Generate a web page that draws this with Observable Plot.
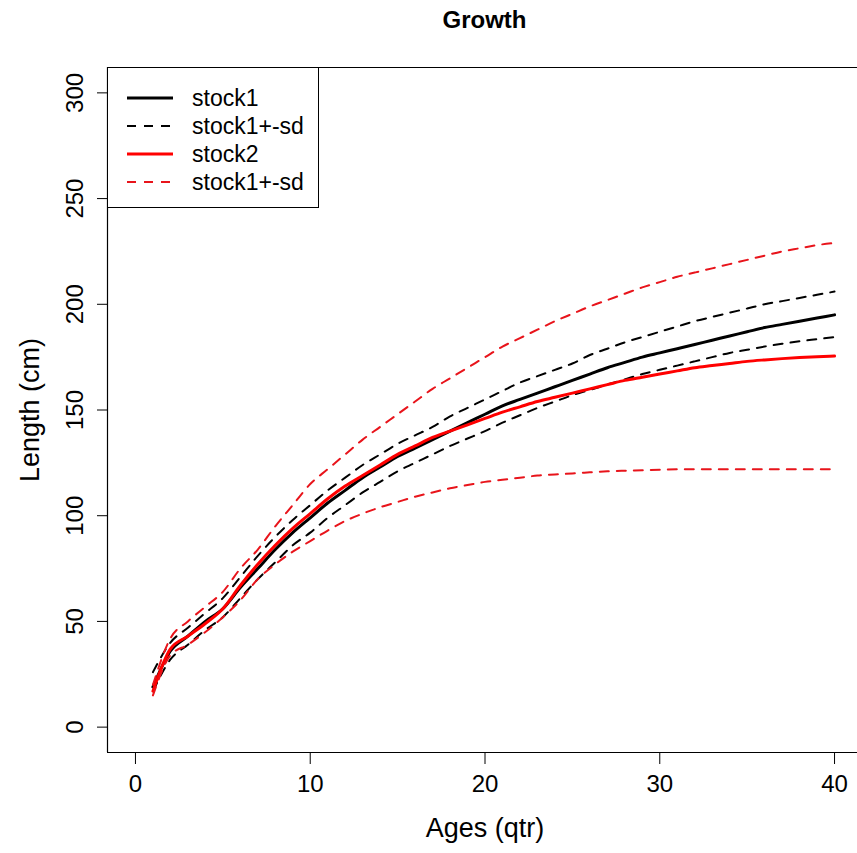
<!DOCTYPE html>
<html>
<head>
<meta charset="utf-8">
<script src="https://cdn.jsdelivr.net/npm/d3@7"></script>
<script src="https://cdn.jsdelivr.net/npm/@observablehq/plot@0.6"></script>
<style>
  html, body { margin: 0; padding: 0; background: #fff; }
  #wrap { position: relative; width: 857px; height: 853px; overflow: hidden; font-family: "Liberation Sans", Arial, sans-serif; }
  #title { position: absolute; top: 6px; left: 107px; width: 755px; text-align: center; font-weight: bold; font-size: 24px; color: #000; }
  #legend { position: absolute; left: 107px; top: 67px; width: 212px; height: 141px; border: 1px solid #000; background: #fff; box-sizing: border-box; padding-top: 16px; }
  .row { height: 28px; display: flex; align-items: center; font-size: 23px; color: #000; }
  .row svg { margin-left: 19px; margin-right: 19px; }
</style>
</head>
<body>
<div id="wrap">
  <div id="chart"></div>
  <div id="title">Growth</div>
  <div id="legend"></div>
</div>
<script>
const ages = [1,2,3,4,5,6,7,8,9,10,11,12,13,14,15,16,17,18,19,20,21,22,23,24,25,26,27,28,29,30,31,32,33,34,35,36,37,38,39,40];

const stock1 = [19,36,43,50,56,66,75,84,92,99,106,112,118,123,128,132,136,140,144,148,152,155,158,161,164,167,170,172.5,175,177,179,181,183,185,187,189,190.5,192,193.5,195];
const stock1Upper = [26,40,47,54,61,71,81,90,98,105,112,118,124,129,134,138,142,147,151,155,159,163,166,169,172,176,179,182,184.5,187,189.5,192,194,196,198,200,201.5,203,204.5,206];
const stock1Lower = [17,32,39,46,52,61,70,78,86,92,99,105,111,116,121,125,129,133,136.5,140,144,147.5,151,154,157,159.5,162,164.5,167,169,171,173,175,177,178.5,180,181.3,182.5,183.5,184.5];

const stock2 = [17,37,43,49,56,67,77,86,94,101,108,114,119,124,129,133,137,140,143,146,149,151.5,154,156,158,160,162,164,165.5,167,168.5,170,171,172,173,173.7,174.3,174.8,175.2,175.5];
const stock2Upper = [20,42,50,57,64,75,84,95,105,115,122,129,136,142,148,154,160,165,170,175,180,184,188,192,195.5,199,202,205,208,210.5,213,215,217,219,221,223,225,226.5,228,229];
const stock2Lower = [15,34,39,45,52,60,70,77,83,88,93,97.5,101,104,106.5,109,111,113,114.5,116,117,118,119,119.5,120,120.5,121,121.3,121.5,121.7,122,122,122,122,122,122,122,122,122,122];

const seriesNames = ["stock1", "stock1+", "stock1-", "stock2", "stock2+", "stock2-"];
const seriesValues = [stock1, stock1Upper, stock1Lower, stock2, stock2Upper, stock2Lower];
const seriesColors = ["#000000", "#000000", "#000000", "#ff0000", "#e8141b", "#e8141b"];
const seriesDashed = [false, true, true, false, true, true];

const legendLabels = ["stock1", "stock1+-sd", "stock2", "stock1+-sd"];
const legendColors = ["#000000", "#000000", "#ff0000", "#e8141b"];
const legendDashed = [false, true, false, true];

const xTicks = [0, 10, 20, 30, 40];
const yTicks = [0, 50, 100, 150, 200, 250, 300];
const xDomain = [-1.6, 41.6];
const yDomain = [-12, 312];

const marks = [];
seriesNames.forEach((name, i) => {
  const data = ages.map((a, j) => ({age: a, len: seriesValues[i][j]}));
  marks.push(Plot.line(data, {
    x: "age", y: "len",
    stroke: seriesColors[i],
    strokeWidth: seriesDashed[i] ? 2 : 3,
    strokeDasharray: seriesDashed[i] ? "9,8" : null,
    curve: "monotone-x"
  }));
});

const chart = Plot.plot({
  width: 857,
  height: 853,
  marginLeft: 107,
  marginRight: -5,
  marginTop: 67,
  marginBottom: 101,
  style: {fontFamily: "'Liberation Sans', Arial, sans-serif", background: "#fff", color: "#000"},
  x: {domain: xDomain},
  y: {domain: yDomain},
  marks: [
    Plot.ruleX([xDomain[0]], {stroke: "#000", strokeWidth: 1.2}),
    Plot.ruleY(yDomain, {stroke: "#000", strokeWidth: 1.2}),
    ...marks,
    Plot.axisX(xTicks, {tickSize: 12, tickPadding: 10, fontSize: 24, label: "Ages (qtr)", labelAnchor: "center", labelArrow: "none", labelOffset: 84}),
    Plot.axisY(yTicks, {tickSize: 10, tickPadding: 15, fontSize: 24, tickRotate: -90, label: "Length (cm)", labelAnchor: "center", labelArrow: "none", labelOffset: 88})
  ]
});
document.getElementById("chart").appendChild(chart);

chart.querySelectorAll("[aria-label='x-axis label'] text, [aria-label='y-axis label'] text").forEach(t => t.setAttribute("font-size", 27));

const legend = d3.select("#legend");
legendLabels.forEach((lab, i) => {
  const row = legend.append("div").attr("class", "row");
  const s = row.append("svg").attr("width", 46).attr("height", 6);
  s.append("line").attr("x1", 0).attr("x2", 46).attr("y1", 3).attr("y2", 3)
    .attr("stroke", legendColors[i])
    .attr("stroke-width", legendDashed[i] ? 2 : 3)
    .attr("stroke-dasharray", legendDashed[i] ? "9,8" : null);
  row.append("span").text(lab);
});
</script>
</body>
</html>
